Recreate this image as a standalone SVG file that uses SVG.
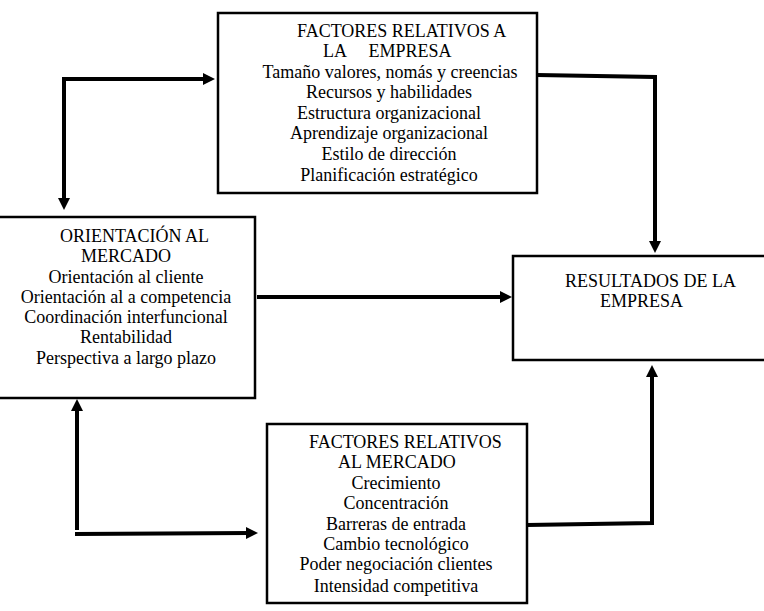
<svg xmlns="http://www.w3.org/2000/svg" width="764" height="611" viewBox="0 0 764 611" font-family="'Liberation Serif', 'DejaVu Serif', serif">
<defs>
<style>
.box{fill:#fff;stroke:#000;stroke-width:2.5}
.t{font-family:'Liberation Serif','DejaVu Serif',serif;font-size:18px;fill:#000}
.c{text-anchor:middle}
.conn{fill:none;stroke:#000;stroke-width:4;stroke-linejoin:miter}
</style>
<marker id="ah" viewBox="0 0 12 12" refX="4" refY="6" markerWidth="12" markerHeight="12" markerUnits="userSpaceOnUse" orient="auto-start-reverse">
<path d="M0,0 L12,6 L0,12 z" fill="#000"/>
</marker>
</defs>
<rect width="764" height="611" fill="#fff"/>
<g id="factores-empresa">
<rect class="box" x="218" y="13" width="319" height="180"/>
<text class="t" x="297" y="37">FACTORES RELATIVOS A</text>
<text class="t" x="323" y="57" xml:space="preserve">LA     EMPRESA</text>
<text class="t c" x="390" y="78">Tamaño valores, nomás y creencias</text>
<text class="t c" x="389" y="98">Recursos y habilidades</text>
<text class="t c" x="389" y="119">Estructura organizacional</text>
<text class="t c" x="389" y="139">Aprendizaje organizacional</text>
<text class="t c" x="389" y="160">Estilo de dirección</text>
<text class="t c" x="389" y="181">Planificación estratégico</text>
</g>
<g id="orientacion-mercado">
<rect class="box" x="-3" y="217" width="258" height="181"/>
<text class="t" x="60" y="242">ORIENTACIÓN AL</text>
<text class="t" x="81" y="262">MERCADO</text>
<text class="t c" x="126" y="283">Orientación al cliente</text>
<text class="t c" x="126" y="303">Orientación al a competencia</text>
<text class="t c" x="126" y="323">Coordinación interfuncional</text>
<text class="t c" x="126" y="343">Rentabilidad</text>
<text class="t c" x="126" y="364">Perspectiva a largo plazo</text>
</g>
<g id="factores-mercado">
<rect class="box" x="267" y="424" width="260" height="179"/>
<text class="t" x="309" y="448">FACTORES RELATIVOS</text>
<text class="t" x="338" y="468">AL MERCADO</text>
<text class="t c" x="396" y="489">Crecimiento</text>
<text class="t c" x="396" y="509">Concentración</text>
<text class="t c" x="396" y="530">Barreras de entrada</text>
<text class="t c" x="396" y="550">Cambio tecnológico</text>
<text class="t c" x="396" y="570">Poder negociación clientes</text>
<text class="t c" x="396" y="592">Intensidad competitiva</text>
</g>
<g id="resultados">
<rect class="box" x="513" y="256" width="255" height="104"/>
<text class="t" x="565" y="287">RESULTADOS DE LA</text>
<text class="t" x="600" y="307">EMPRESA</text>
</g>
<g id="connectors">
<path class="conn" d="M64,202 L64,79 L207,79" marker-start="url(#ah)" marker-end="url(#ah)"/>
<path class="conn" d="M537,75 L655,77 L655,245" marker-end="url(#ah)"/>
<path class="conn" d="M257,297 L504,297" marker-end="url(#ah)"/>
<path class="conn" d="M77,530 L77,407" marker-end="url(#ah)"/>
<path class="conn" d="M75,534 L250,533" marker-end="url(#ah)"/>
<path class="conn" d="M527,525 L652,523 L652,373" marker-end="url(#ah)"/>
</g>
</svg>
